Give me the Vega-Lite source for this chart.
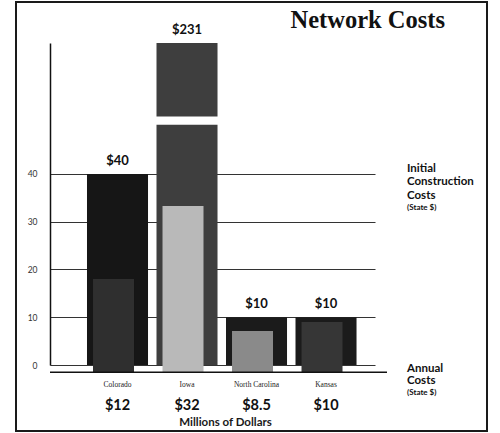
{
  "$schema": "https://vega.github.io/schema/vega-lite/v6.json",
  "autosize": {"type": "none"},
  "padding": {"left": 50, "top": 43, "right": 125, "bottom": 68},
  "width": 325,
  "height": 322,
  "background": "white",
  "config": {"view": {"stroke": null}, "font": "Lato"},
  "datasets": {
    "states": [
      {"state": "Colorado", "annual": 12, "annual_label": "$12", "annual_bar_value": 18},
      {"state": "Iowa", "annual": 32, "annual_label": "$32", "annual_bar_value": 33.3},
      {"state": "North Carolina", "annual": 8.5, "annual_label": "$8.5", "annual_bar_value": 7.1},
      {"state": "Kansas", "annual": 10, "annual_label": "$10", "annual_bar_value": 9}
    ],
    "segments": [
      {"state": "Colorado", "lo": 0, "hi": 40, "label": "$40"},
      {"state": "Iowa", "lo": 0, "hi": 50.3, "label": null},
      {"state": "Iowa", "lo": 52, "hi": 67.4, "label": "$231"},
      {"state": "North Carolina", "lo": 0, "hi": 10, "label": "$10"},
      {"state": "Kansas", "lo": 0, "hi": 10, "label": "$10"}
    ],
    "notes_big": [
      {"group": "construction", "text": "Initial\nConstruction\nCosts"},
      {"group": "annual", "text": "Annual\nCosts"}
    ]
  },
  "resolve": {"scale": {"color": "independent"}},
  "layer": [
    {
      "data": {"values": [{}]},
      "mark": {"type": "rect", "fill": "transparent", "stroke": "#1a1a1a", "strokeWidth": 2, "xOffset": -34, "x2Offset": 112, "yOffset": -41, "y2Offset": 66},
      "encoding": {
        "x": {"value": 0},
        "x2": {"value": {"expr": "width"}},
        "y": {"value": 0},
        "y2": {"value": {"expr": "height"}}
      }
    },
    {
      "data": {"name": "segments"},
      "mark": {"type": "bar"},
      "encoding": {
        "x": {
          "field": "state", "type": "nominal",
          "sort": ["Colorado", "Iowa", "North Carolina", "Kansas"],
          "scale": {"paddingInner": 0.122, "paddingOuter": 0.399, "align": 0.667},
          "axis": {
            "domain": false, "ticks": false, "labelAngle": 0,
            "labelFont": "Liberation Serif", "labelFontSize": 7.5, "labelColor": "#222",
            "labelPadding": 15,
            "title": "Millions of Dollars", "titleX": 175, "titleY": 60, "titleBaseline": "alphabetic",
            "titleFont": "Lato", "titleFontSize": 11.5, "titleFontWeight": "bold", "titleColor": "#1a1a1a"
          }
        },
        "y": {
          "field": "hi", "type": "quantitative",
          "scale": {"domain": [0, 67.4], "nice": false, "zero": false},
          "axis": {
            "values": [0, 10, 20, 30, 40], "title": null, "ticks": false,
            "labelPadding": 13, "labelFontSize": 8.5, "labelColor": "#333",
            "grid": true, "gridColor": "#333", "gridWidth": 1.2, "gridOpacity": 1,
            "domainColor": "#111", "domainWidth": 1.5
          }
        },
        "y2": {"field": "lo"},
        "color": {
          "field": "state", "type": "nominal", "legend": null,
          "scale": {"domain": ["Colorado", "Iowa", "North Carolina", "Kansas"], "range": ["#161616", "#3e3e3e", "#1b1b1b", "#1b1b1b"]}
        }
      }
    },
    {
      "data": {"name": "states"},
      "mark": {"type": "bar", "width": 41, "xOffset": -4},
      "encoding": {
        "x": {"field": "state", "type": "nominal", "sort": ["Colorado", "Iowa", "North Carolina", "Kansas"]},
        "y": {"field": "annual_bar_value", "type": "quantitative"},
        "y2": {"datum": -1.5},
        "color": {
          "field": "state", "type": "nominal", "legend": null,
          "scale": {"domain": ["Colorado", "Iowa", "North Carolina", "Kansas"], "range": ["#2f2f2f", "#b9b9b9", "#8a8a8a", "#363636"]}
        }
      }
    },
    {
      "data": {"values": [{}]},
      "mark": {"type": "rule", "color": "#111", "strokeWidth": 1.5, "xOffset": 12, "x2Offset": 28},
      "encoding": {"y": {"datum": -1.5}}
    },
    {
      "data": {"values": [{"title": "Network Costs"}]},
      "mark": {"type": "text", "align": "left", "baseline": "alphabetic", "dx": 34, "dy": -15, "font": "Liberation Serif", "fontSize": 24.5, "fontWeight": "bold", "color": "#111"},
      "encoding": {
        "x": {"datum": "North Carolina"},
        "y": {"datum": 67.4},
        "text": {"field": "title"}
      }
    },
    {
      "data": {"name": "segments"},
      "transform": [{"filter": "datum.label != null"}],
      "mark": {"type": "text", "baseline": "alphabetic", "dy": -9, "fontSize": 13, "fontWeight": "bold", "color": "#111"},
      "encoding": {
        "x": {"field": "state", "type": "nominal", "sort": ["Colorado", "Iowa", "North Carolina", "Kansas"]},
        "y": {"field": "hi", "type": "quantitative"},
        "text": {"field": "label"}
      }
    },
    {
      "data": {"name": "states"},
      "mark": {"type": "text", "baseline": "alphabetic", "dy": 45, "fontSize": 14.5, "fontWeight": "bold", "color": "#111"},
      "encoding": {
        "x": {"field": "state", "type": "nominal", "sort": ["Colorado", "Iowa", "North Carolina", "Kansas"]},
        "y": {"datum": 0},
        "text": {"field": "annual_label"}
      }
    },
    {
      "data": {"name": "notes_big"},
      "transform": [{"filter": "datum.group == 'construction'"}],
      "mark": {"type": "text", "align": "left", "baseline": "alphabetic", "dx": 81, "dy": -2, "lineBreak": "\n", "lineHeight": 13.5, "fontSize": 11.5, "fontWeight": "bold", "color": "#111"},
      "encoding": {
        "x": {"datum": "Kansas"},
        "y": {"datum": 40},
        "text": {"field": "text"}
      }
    },
    {
      "data": {"name": "notes_big"},
      "transform": [{"filter": "datum.group == 'annual'"}],
      "mark": {"type": "text", "align": "left", "baseline": "alphabetic", "dx": 81, "dy": 7, "lineBreak": "\n", "lineHeight": 12, "fontSize": 11.5, "fontWeight": "bold", "color": "#111"},
      "encoding": {
        "x": {"datum": "Kansas"},
        "y": {"datum": 0},
        "text": {"field": "text"}
      }
    },
    {
      "data": {"values": [{"note": "(State $)"}]},
      "mark": {"type": "text", "align": "left", "baseline": "alphabetic", "dx": 81, "dy": 36, "fontSize": 8, "fontWeight": "bold", "color": "#111"},
      "encoding": {
        "x": {"datum": "Kansas"},
        "y": {"datum": 40},
        "text": {"field": "note"}
      }
    },
    {
      "data": {"values": [{"note": "(State $)"}]},
      "mark": {"type": "text", "align": "left", "baseline": "alphabetic", "dx": 81, "dy": 30, "fontSize": 8, "fontWeight": "bold", "color": "#111"},
      "encoding": {
        "x": {"datum": "Kansas"},
        "y": {"datum": 0},
        "text": {"field": "note"}
      }
    }
  ]
}
